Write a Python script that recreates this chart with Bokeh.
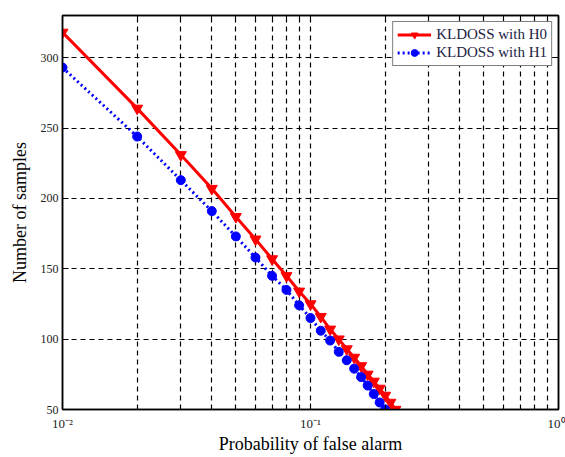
from bokeh.plotting import figure
from bokeh.models import (Range1d, FixedTicker, LogAxis, LinearAxis, Legend, LegendItem)
from bokeh.embed import file_html
from bokeh.resources import INLINE

# Data
pfa_h0 = [0.01, 0.02, 0.03, 0.04, 0.05, 0.06, 0.07, 0.08, 0.09, 0.10, 0.11,
          0.12, 0.13, 0.14, 0.15, 0.16, 0.17, 0.18, 0.19, 0.20, 0.21, 0.22]
n_h0 = [318, 264, 231, 207, 187, 171, 157, 145, 134, 125, 116,
        107, 100, 93, 87, 81, 75, 70, 65, 60, 55, 50]

pfa_h1 = [0.01, 0.02, 0.03, 0.04, 0.05, 0.06, 0.07, 0.08, 0.09, 0.10,
          0.11, 0.12, 0.13, 0.14, 0.15, 0.16, 0.17, 0.18, 0.19, 0.20]
n_h1 = [293, 244, 213, 191, 173, 158, 145, 135, 124, 115,
        106, 99, 91, 85, 79, 73, 67, 61, 55, 50]

x_major = [0.01, 0.1, 1.0]
x_minor = [0.02, 0.03, 0.04, 0.05, 0.06, 0.07, 0.08, 0.09,
           0.2, 0.3, 0.4, 0.5, 0.6, 0.7, 0.8, 0.9]
x_labels = {0.01: "10\u207b\u00b2", 0.1: "10\u207b\u00b9", 1.0: "10\u2070"}
y_ticks = [50, 100, 150, 200, 250, 300]

label_names = ["KLDOSS with H0", "KLDOSS with H1"]

FONT = "Liberation Serif"

p = figure(width=565, height=457, x_axis_type="log",
           x_range=Range1d(0.01, 1.0), y_range=Range1d(50, 330),
           output_backend="svg", toolbar_location=None,
           min_border_left=62, min_border_right=7,
           min_border_top=15, min_border_bottom=48)

p.background_fill_color = "white"
p.border_fill_color = "white"
p.outline_line_color = "black"
p.outline_line_width = 1.5

xt = FixedTicker(ticks=x_major, minor_ticks=x_minor)
yt = FixedTicker(ticks=y_ticks, minor_ticks=[])

# grids
for g in (p.xgrid, p.ygrid):
    g.grid_line_color = "black"
    g.grid_line_dash = "5 4"
    g.grid_line_width = 1.2
p.xgrid.ticker = xt
p.xgrid.minor_grid_line_color = "black"
p.xgrid.minor_grid_line_dash = "5 4"
p.xgrid.minor_grid_line_width = 1.2
p.ygrid.ticker = yt

# axes
xa = p.xaxis[0]
xa.ticker = xt
xa.major_label_overrides = x_labels
ya = p.yaxis[0]
ya.ticker = yt

for ax in (xa, ya):
    ax.axis_line_color = "black"
    ax.axis_line_width = 1.5
    ax.major_tick_in = 6
    ax.major_tick_out = 0
    ax.minor_tick_in = 4
    ax.minor_tick_out = 0
    ax.major_tick_line_color = "black"
    ax.minor_tick_line_color = "black"
    ax.major_label_text_font = FONT
    ax.major_label_text_font_size = "12px"
    ax.major_label_text_color = "#222222"
    ax.axis_label_text_font = FONT
    ax.axis_label_text_font_size = "18px"
    ax.axis_label_text_font_style = "normal"
    ax.axis_label_text_color = "black"
    ax.major_label_standoff = 4
    ax.axis_label_standoff = 8
ya.minor_tick_line_color = None
xa.axis_label = "Probability of false alarm"
ya.axis_label = "Number of samples"
xa.major_label_text_font_size = "13px"
xa.major_label_standoff = 6
xa.axis_label_standoff = 0

top = LogAxis(ticker=xt, major_label_text_font_size="1px",
              major_label_text_color=None,
              major_tick_in=6, major_tick_out=0, minor_tick_in=4, minor_tick_out=0,
              axis_line_width=1.5, major_label_standoff=1)
right = LinearAxis(ticker=yt, major_label_text_font_size="1px",
                   major_label_text_color=None,
                   major_tick_in=6, major_tick_out=0, minor_tick_line_color=None,
                   axis_line_width=1.5, major_label_standoff=1)
p.add_layout(top, "above")
p.add_layout(right, "right")

# series
l0 = p.line(pfa_h0, n_h0, line_color="red", line_width=3)
s0 = p.scatter(pfa_h0, n_h0, marker="inverted_triangle", size=11,
               fill_color="red", line_color="red")
l1 = p.line(pfa_h1, n_h1, line_color="blue", line_width=3, line_dash="2 3")
s1 = p.scatter(pfa_h1, n_h1, marker="circle", size=9,
               fill_color="blue", line_color="blue")

legend = Legend(items=[LegendItem(label=label_names[0], renderers=[l0, s0]),
                       LegendItem(label=label_names[1], renderers=[l1, s1])],
                location="top_right")
legend.label_text_font = FONT
legend.label_text_font_size = "15px"
legend.label_text_color = "#222244"
legend.glyph_width = 34
legend.glyph_height = 17
legend.label_height = 17
legend.label_standoff = 5
legend.spacing = 1
legend.padding = 4
legend.margin = 6
legend.border_line_color = "black"
legend.border_line_width = 1.5
legend.background_fill_color = "white"
legend.background_fill_alpha = 1.0
p.add_layout(legend)

open("out.html", "w").write(file_html(p, INLINE))
